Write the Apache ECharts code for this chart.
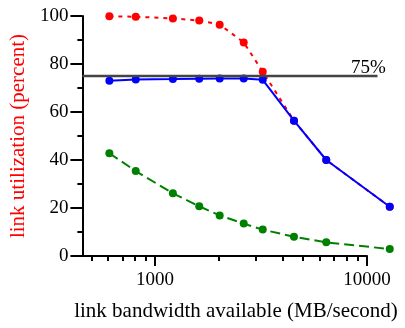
<!DOCTYPE html>
<html>
<head>
<meta charset="utf-8">
<script src="https://cdn.jsdelivr.net/npm/echarts@6/dist/echarts.min.js"></script>
<style>
  html, body { margin: 0; padding: 0; background: #fff; }
  #chart { width: 405px; height: 328px; }
</style>
</head>
<body>
<div id="chart"></div>
<script>
// bandwidth in MB/second
var bandwidth = [600, 800, 1200, 1600, 2000, 2600, 3200, 4500, 6400, 12800]
var redUtil = [99.9, 99.7, 99.0, 98.1, 96.4, 89.0, 76.8, 56.4, 40.0, 20.5]
var blueUtil = [73.0, 73.5, 73.7, 73.9, 74.0, 74.0, 73.4, 56.4, 40.0, 20.5]
var greenUtil = [42.8, 35.4, 26.1, 20.7, 16.9, 13.5, 11.0, 8.0, 5.7, 2.9]
var xMajorTicks = [1000, 10000]
var xMinorTicks = [500, 600, 700, 800, 900, 2000, 3000, 4000, 5000, 6000, 7000, 8000, 9000]
var thresholdX = [447, 11200]
var thresholdY = 75

var font = 'Liberation Serif'
var xMin = 447
var xAxisMax = 10000 // drawn axis stops at 10000, data runs past it

// data grid is wider than the drawn axis so the last points are not clipped
var W = 405
var left = 81
var rightAxis = 38
var rightData = 8
var logSpan = (Math.log10(xAxisMax) - Math.log10(xMin)) * (W - left - rightData) / (W - left - rightAxis)
var xDataMax = Math.pow(10, Math.log10(xMin) + logSpan)

function pairs (ys) {
  return bandwidth.map(function (b, i) { return [b, ys[i]] })
}

function lineSeries (ys, color, dash, z) {
  return {
    type: 'line',
    data: pairs(ys),
    z: z,
    symbol: 'circle',
    symbolSize: 8,
    itemStyle: { color: color },
    lineStyle: { color: color, width: 2, type: dash },
    emphasis: { disabled: true }
  }
}

var chart = echarts.init(document.getElementById('chart'))
chart.setOption({
  animation: false,
  grid: [
    { left: left, right: rightData, top: 16, bottom: 72 },
    { left: left, right: rightAxis, top: 16, bottom: 72 }
  ],
  xAxis: [{
    type: 'log',
    gridIndex: 0,
    min: xMin,
    max: xDataMax,
    axisLine: { show: false },
    axisTick: { show: false },
    axisLabel: { show: false },
    splitLine: { show: false }
  }, {
    type: 'log',
    gridIndex: 1,
    min: xMin,
    max: xAxisMax,
    name: 'link bandwidth available (MB/second)',
    nameLocation: 'middle',
    nameGap: 45,
    nameTextStyle: { fontFamily: font, fontSize: 21, color: '#000', padding: [0, 0, 0, 24] },
    axisLine: { lineStyle: { color: '#000', width: 2 } },
    axisTick: { customValues: xMajorTicks, length: 10, lineStyle: { width: 2, color: '#000' } },
    axisLabel: {
      customValues: xMajorTicks,
      formatter: function (v) { return String(Math.round(v)) },
      fontFamily: font,
      fontSize: 19,
      color: '#000',
      margin: 15
    },
    splitLine: { show: false }
  }, {
    type: 'log',
    gridIndex: 1,
    min: xMin,
    max: xAxisMax,
    position: 'bottom',
    offset: 0,
    axisLine: { show: false },
    axisTick: { customValues: xMinorTicks, length: 5, lineStyle: { width: 2, color: '#000' } },
    axisLabel: { show: false },
    splitLine: { show: false }
  }],
  yAxis: [{
    type: 'value',
    gridIndex: 0,
    min: 0,
    max: 100,
    interval: 20,
    name: 'link utilization (percent)',
    nameLocation: 'middle',
    nameGap: 53,
    nameTextStyle: { fontFamily: font, fontSize: 21, color: '#ff0000' },
    axisLine: { show: true, lineStyle: { color: '#000', width: 2 } },
    axisTick: { show: true, length: 12, lineStyle: { width: 2, color: '#000' } },
    minorTick: { show: true, splitNumber: 2, length: 5, lineStyle: { width: 2, color: '#000' } },
    axisLabel: { fontFamily: font, fontSize: 19, color: '#000', margin: 14 },
    splitLine: { show: false }
  }, {
    type: 'value',
    gridIndex: 1,
    min: 0,
    max: 100,
    show: false
  }],
  series: [
    lineSeries(redUtil, '#ff0000', [4, 5], 2),
    lineSeries(greenUtil, '#008000', [10, 5], 3),
    lineSeries(blueUtil, '#0000ff', 'solid', 4),
    {
      type: 'line',
      data: [
        [thresholdX[0], thresholdY],
        {
          value: [thresholdX[1], thresholdY],
          label: {
            show: true,
            formatter: '75%',
            position: 'top',
            offset: [-9, 7],
            fontFamily: font,
            fontSize: 19,
            color: '#000'
          }
        }
      ],
      z: 5,
      symbol: 'circle',
      symbolSize: 1,
      itemStyle: { color: 'rgba(0,0,0,0)' },
      lineStyle: { color: '#444', width: 2.5 },
      emphasis: { disabled: true }
    }
  ]
})
</script>
</body>
</html>
